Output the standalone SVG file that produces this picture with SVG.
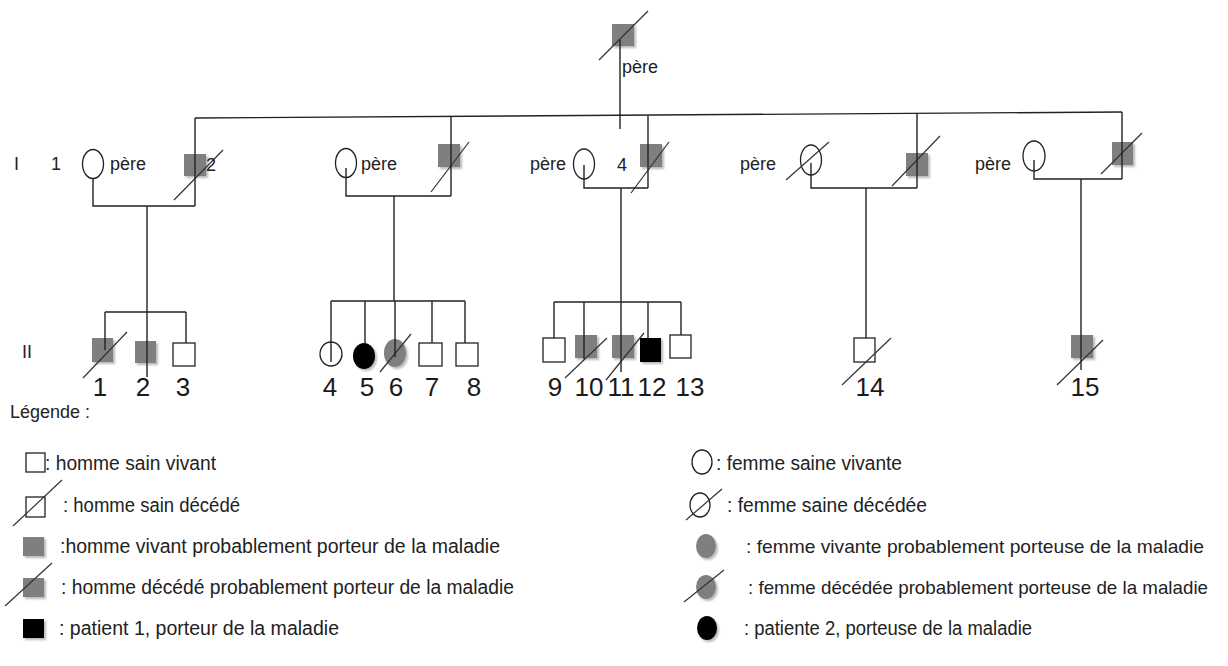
<svg xmlns="http://www.w3.org/2000/svg" width="1228" height="666" viewBox="0 0 1228 666">
<defs>
<filter id="sh" x="-40%" y="-40%" width="180%" height="180%"><feDropShadow dx="2" dy="2" stdDeviation="1.2" flood-color="#000" flood-opacity="0.28"/></filter>
</defs>
<style>
.w{fill:#fff;stroke:#222;stroke-width:1.3}
.g{fill:#7f7f7f;filter:url(#sh)}
.b{fill:#000;filter:url(#sh)}
.s{stroke:#333;stroke-width:1.2;fill:none}
.c line,.c polyline{stroke:#222;stroke-width:1.4;fill:none}
text{font-family:"Liberation Sans",Arial,sans-serif;fill:#222}
.t{font-size:18px}
.n{font-size:26px;text-anchor:middle;fill:#1a1a1a}
.l{font-size:20px}
.l2{font-size:19px}
</style>
<rect width="1228" height="666" fill="#fff"/>

<!-- top father -->
<g id="pere-top">
<rect class="g" x="612" y="24" width="22" height="22"/>
<line class="s" x1="599" y1="60" x2="648" y2="11"/>
<text class="t" x="622" y="73">père</text>
</g>

<text class="t" x="14" y="170">I</text>
<text class="t" x="51" y="170">1</text>
<text class="t" x="22" y="358">II</text>

<!-- Generation I -->
<g id="I-1"><ellipse class="w" cx="93" cy="164" rx="10.5" ry="14.5"/><text class="t" x="110" y="170">père</text></g>
<g id="I-2"><rect class="g" x="184" y="154" width="22" height="22"/><line class="s" x1="174" y1="200" x2="223" y2="150"/><text class="t" x="206" y="171">2</text></g>
<g id="I-3"><ellipse class="w" cx="346" cy="163" rx="10.5" ry="14.5"/><text class="t" x="361" y="170">père</text></g>
<g id="I-4"><rect class="g" x="438" y="144" width="22" height="23"/><line class="s" x1="431" y1="192" x2="469" y2="142"/></g>
<g id="I-5"><text class="t" x="530" y="170">père</text><ellipse class="w" cx="584" cy="164" rx="10.5" ry="15"/><text class="t" x="617" y="171">4</text></g>
<g id="I-6"><rect class="g" x="640" y="144" width="22" height="23"/><line class="s" x1="631" y1="193" x2="669" y2="142"/></g>
<g id="I-7"><text class="t" x="740" y="170">père</text><ellipse class="w" cx="811" cy="160" rx="10.5" ry="15"/><line class="s" x1="786" y1="180" x2="829" y2="142"/></g>
<g id="I-8"><rect class="g" x="906" y="153" width="22" height="23"/><line class="s" x1="892" y1="186" x2="940" y2="136"/></g>
<g id="I-9"><text class="t" x="975" y="170">père</text><ellipse class="w" cx="1034" cy="156" rx="11" ry="15"/></g>
<g id="I-10"><rect class="g" x="1112" y="142" width="21" height="23"/><line class="s" x1="1101" y1="174" x2="1142" y2="133"/></g>

<!-- Generation II -->
<g id="II-1"><rect class="g" x="92" y="338" width="21" height="24"/><line class="s" x1="83" y1="378" x2="127" y2="332"/><text class="n" x="100" y="396">1</text></g>
<g id="II-2"><rect class="g" x="135" y="341" width="21" height="22"/><text class="n" x="143" y="396">2</text></g>
<g id="II-3"><rect class="w" x="173" y="343" width="22" height="23"/><text class="n" x="183" y="396">3</text></g>
<g id="II-4"><ellipse class="w" cx="331" cy="354" rx="11" ry="12"/><text class="n" x="330" y="396">4</text></g>
<g id="II-5"><ellipse class="b" cx="364" cy="356" rx="11" ry="13"/><text class="n" x="367" y="396">5</text></g>
<g id="II-6"><ellipse class="g" cx="395" cy="353" rx="11" ry="14"/><line class="s" x1="380" y1="372" x2="411" y2="334"/><text class="n" x="396" y="396">6</text></g>
<g id="II-7"><rect class="w" x="419" y="343" width="23" height="23"/><text class="n" x="432" y="396">7</text></g>
<g id="II-8"><rect class="w" x="456" y="343" width="22" height="23"/><text class="n" x="474" y="396">8</text></g>
<g id="II-9"><rect class="w" x="543" y="338" width="22" height="24"/><text class="n" x="555" y="396">9</text></g>
<g id="II-10"><rect class="g" x="575" y="335" width="22" height="23"/><line class="s" x1="565" y1="378" x2="607" y2="338"/><text class="n" x="589" y="396">10</text></g>
<g id="II-11"><rect class="g" x="612" y="335" width="22" height="23"/><line class="s" x1="606" y1="380" x2="644" y2="333"/><text class="n" x="621" y="396">11</text></g>
<g id="II-12"><rect class="b" x="640" y="338" width="21" height="24"/><text class="n" x="652" y="396">12</text></g>
<g id="II-13"><rect class="w" x="670" y="335" width="21" height="23"/><text class="n" x="690" y="396">13</text></g>
<g id="II-14"><rect class="w" x="854" y="338" width="21" height="24"/><line class="s" x1="842" y1="385" x2="891" y2="338"/><text class="n" x="870" y="396">14</text></g>
<g id="II-15"><rect class="g" x="1071" y="335" width="22" height="23"/><line class="s" x1="1057" y1="385" x2="1103" y2="340"/><text class="n" x="1085" y="396">15</text></g>

<!-- connectors -->
<g id="connectors" class="c">
<line x1="620" y1="40" x2="620" y2="129"/>
<line x1="195" y1="118" x2="1122" y2="112"/>
<line x1="195" y1="118" x2="195" y2="206"/>
<polyline points="93,179 93,206 195,206"/>
<line x1="147" y1="206" x2="147" y2="377"/>
<line x1="105" y1="312" x2="186" y2="312"/>
<line x1="105" y1="312" x2="105" y2="350"/>
<line x1="186" y1="312" x2="186" y2="343"/>
<line x1="451" y1="117" x2="451" y2="196"/>
<polyline points="346,168 346,196 451,196"/>
<line x1="394" y1="196" x2="394" y2="301"/>
<line x1="331" y1="301" x2="465" y2="301"/>
<line x1="331" y1="301" x2="331" y2="362"/>
<line x1="365" y1="301" x2="365" y2="343"/>
<line x1="395" y1="301" x2="395" y2="357"/>
<line x1="432" y1="301" x2="432" y2="343"/>
<line x1="465" y1="301" x2="465" y2="343"/>
<line x1="648" y1="116" x2="648" y2="188"/>
<polyline points="584,165 584,188 648,188"/>
<line x1="621" y1="188" x2="621" y2="372"/>
<line x1="554" y1="302" x2="681" y2="302"/>
<line x1="554" y1="302" x2="554" y2="338"/>
<line x1="584" y1="302" x2="584" y2="359"/>
<line x1="648" y1="302" x2="648" y2="338"/>
<line x1="681" y1="302" x2="681" y2="335"/>
<line x1="917" y1="113" x2="917" y2="188"/>
<polyline points="811,163 811,188 917,188"/>
<line x1="866" y1="188" x2="866" y2="338"/>
<line x1="1122" y1="112" x2="1122" y2="179"/>
<polyline points="1034,160 1034,179 1122,179"/>
<line x1="1081" y1="179" x2="1081" y2="370"/>
</g>

<!-- legend -->
<g id="legende">
<text class="t" x="10" y="418">Légende :</text>
<rect class="w" x="26" y="453" width="19" height="19"/>
<text class="l" x="45" y="470" textLength="171" lengthAdjust="spacingAndGlyphs">: homme sain vivant</text>
<rect class="w" x="26" y="497" width="19" height="20"/>
<line class="s" x1="13" y1="526" x2="62" y2="480"/>
<text class="l" x="63" y="512" textLength="177" lengthAdjust="spacingAndGlyphs">: homme sain décédé</text>
<rect class="g" x="23" y="537" width="21" height="19"/>
<text class="l" x="60" y="553" textLength="440" lengthAdjust="spacingAndGlyphs">:homme vivant probablement porteur de la maladie</text>
<rect class="g" x="23" y="578" width="21" height="19"/>
<line class="s" x1="5" y1="606" x2="52" y2="563"/>
<text class="l" x="61" y="594" textLength="453" lengthAdjust="spacingAndGlyphs">: homme décédé probablement porteur de la maladie</text>
<rect class="b" x="23" y="619" width="21" height="19"/>
<text class="l" x="59" y="635" textLength="280" lengthAdjust="spacingAndGlyphs">: patient 1, porteur de la maladie</text>

<ellipse class="w" cx="702" cy="462" rx="10" ry="12"/>
<text class="l" x="716" y="470" textLength="186" lengthAdjust="spacingAndGlyphs">: femme saine vivante</text>
<ellipse class="w" cx="700" cy="505" rx="10" ry="12"/>
<line class="s" x1="686" y1="520" x2="722" y2="489"/>
<text class="l" x="727" y="512" textLength="200" lengthAdjust="spacingAndGlyphs">: femme saine décédée</text>
<ellipse class="g" cx="706" cy="546" rx="10" ry="12"/>
<text class="l2" x="746" y="553" textLength="458" lengthAdjust="spacingAndGlyphs">: femme vivante probablement porteuse de la maladie</text>
<ellipse class="g" cx="706" cy="587" rx="10" ry="12"/>
<line class="s" x1="684" y1="602" x2="724" y2="570"/>
<text class="l2" x="748" y="594" textLength="460" lengthAdjust="spacingAndGlyphs">: femme décédée probablement porteuse de la maladie</text>
<ellipse class="b" cx="707" cy="628" rx="10" ry="12"/>
<text class="l" x="744" y="635" textLength="288" lengthAdjust="spacingAndGlyphs">: patiente 2, porteuse de la maladie</text>
</g>
</svg>
